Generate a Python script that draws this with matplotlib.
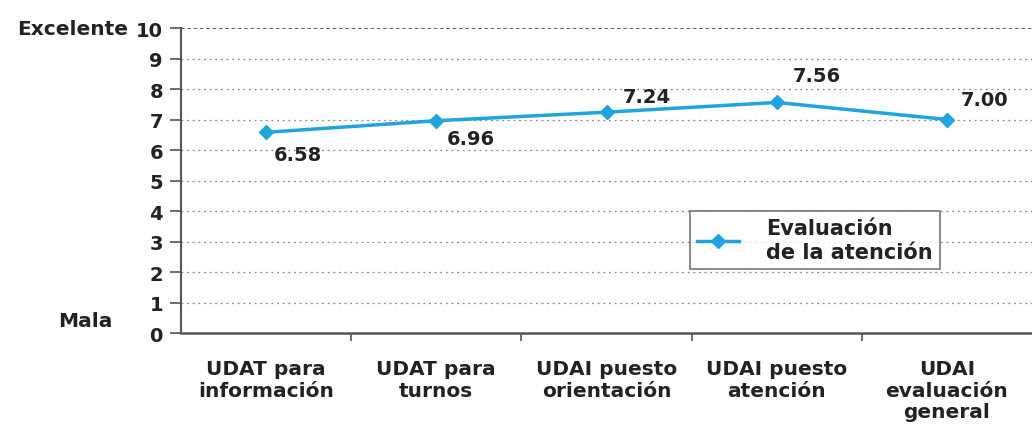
import matplotlib.pyplot as plt
from matplotlib.ticker import FixedLocator

# Datos del grafico
categorias = ['UDAT para\ninformación', 'UDAT para\nturnos', 'UDAI puesto\norientación',
              'UDAI puesto\natención', 'UDAI\nevaluación\ngeneral']
valores = [6.58, 6.96, 7.24, 7.56, 7.00]
etiquetas = ['6.58', '6.96', '7.24', '7.56', '7.00']
# desplazamiento de cada etiqueta en pixeles (x, y)
offsets = [(32, -22), (35, -18), (40, 16), (40, 27), (38, 20)]

azul = '#1EA5DF'
texto = '#222222'

plt.rcParams['font.family'] = ['DejaVu Sans']
plt.rcParams['font.weight'] = 'bold'

fig = plt.figure(figsize=(10.32, 4.31), dpi=100)
ax = fig.add_axes([0.1754, 0.225, 0.8246, 0.7077])

x = list(range(len(categorias)))
ax.plot(x, valores, color=azul, linewidth=2.5, marker='D', markersize=7,
        label='Evaluación\nde la atención')

for xi, v, lab, off in zip(x, valores, etiquetas, offsets):
    ax.annotate(lab, (xi, v), xytext=off, textcoords='offset pixels',
                ha='center', va='center', fontsize=14, fontweight='bold', color=texto)

ax.set_xlim(-0.5, 4.5)
ax.set_ylim(0, 10)
ax.set_yticks(range(0, 11))
ax.set_xticks(x)
ax.set_xticklabels(categorias, fontsize=14.5, fontweight='bold', color=texto, linespacing=1.15)
ax.xaxis.set_minor_locator(FixedLocator([0.5, 1.5, 2.5, 3.5]))
ax.tick_params(axis='x', which='major', length=0, pad=19)
ax.tick_params(axis='x', which='minor', length=6, width=1.2, color='#555555')
ax.tick_params(axis='y', length=8, width=1.2, color='#555555', pad=5,
               labelsize=14, labelcolor=texto)
for t in ax.get_yticklabels():
    t.set_fontweight('bold')

# rejilla punteada
for yv in range(1, 10):
    ax.axhline(yv, color='#888888', linestyle=(0, (1.5, 3)), linewidth=0.9, zorder=0)
ax.axhline(10, color='#555555', linestyle=(0, (2, 1.5)), linewidth=1.3, zorder=0)

for s in ['top', 'right']:
    ax.spines[s].set_visible(False)
ax.spines['left'].set_color('#555555')
ax.spines['bottom'].set_color('#555555')
ax.spines['left'].set_linewidth(1.5)
ax.spines['bottom'].set_linewidth(1.8)

ax.text(-0.062, 10, 'Excelente', transform=ax.get_yaxis_transform(), ha='right', va='center',
        fontsize=14.5, fontweight='bold', color=texto)
ax.text(-0.081, 0.4, 'Mala', transform=ax.get_yaxis_transform(), ha='right', va='center',
        fontsize=14.5, fontweight='bold', color=texto)

leg = ax.legend(loc='upper left', bbox_to_anchor=(0.598, 0.40), fontsize=15, frameon=True,
                fancybox=False, edgecolor='#555555', handlelength=2.0, borderpad=0.35,
                labelspacing=0.2, handletextpad=1.3, borderaxespad=0)
leg.get_frame().set_linewidth(1.2)
for t in leg.get_texts():
    t.set_fontweight('bold')
    t.set_color(texto)

fig.savefig('out.png', dpi=100)
